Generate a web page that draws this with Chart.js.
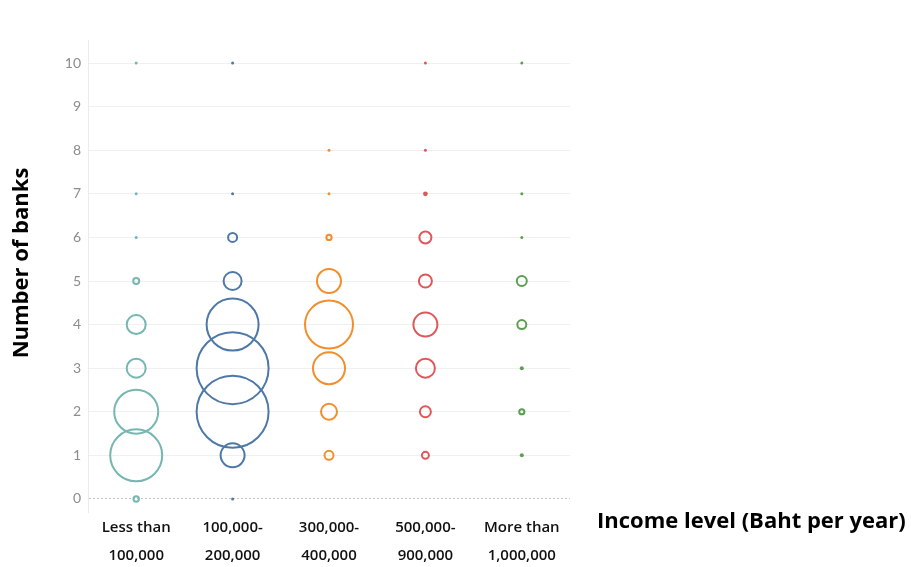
<!DOCTYPE html>
<html>
<head>
<meta charset="utf-8">
<script src="https://cdn.jsdelivr.net/npm/chart.js@4.4.1/dist/chart.umd.min.js"></script>
<style>
  html, body { margin: 0; padding: 0; background: #ffffff; }
  #wrap { width: 911px; height: 567px; position: relative; }
</style>
</head>
<body>
<div id="wrap"><canvas id="c" width="911" height="567"></canvas></div>
<script>
// ---- data ----
const categories = [
  ["Less than", "100,000"],
  ["100,000-", "200,000"],
  ["300,000-", "400,000"],
  ["500,000-", "900,000"],
  ["More than", "1,000,000"]
];
const yTickValues = [0, 1, 2, 3, 4, 5, 6, 7, 8, 9, 10];
const yTitle = "Number of banks";
const xTitle = "Income level (Baht per year)";

// number of banks (y) and bubble radius for each income group
const lessThan100kBanks = [10, 7, 6, 5, 4, 3, 2, 1, 0];
const lessThan100kSize  = [1.5, 1.5, 1.5, 3, 9.5, 9.5, 22, 26, 2.7];

const from100kBanks = [10, 7, 6, 5, 4, 3, 2, 1, 0];
const from100kSize  = [1.5, 1.5, 4.5, 9, 26, 36, 36, 12, 1.5];

const from300kBanks = [8, 7, 6, 5, 4, 3, 2, 1];
const from300kSize  = [1.5, 1.5, 2.6, 12, 24, 16, 8, 4.5];

const from500kBanks = [10, 8, 7, 6, 5, 4, 3, 2, 1];
const from500kSize  = [1.5, 1.5, 2.4, 6, 6.5, 12, 9.5, 5.5, 3.5];

const moreThan1mBanks = [10, 7, 6, 5, 4, 3, 2, 1];
const moreThan1mSize  = [1.5, 1.5, 1.5, 5, 4.5, 2, 2.6, 2];

const seriesColors = ["#76b7b2", "#4e79a7", "#f28e2b", "#e15759", "#59a14f"];

function buildPoints(catIndex, banks, sizes) {
  // x refers to the category label object itself so the category scale finds it
  return banks.map((b, i) => ({ x: categories[catIndex], y: b, r: sizes[i] }));
}

const groups = [
  [lessThan100kBanks, lessThan100kSize],
  [from100kBanks, from100kSize],
  [from300kBanks, from300kSize],
  [from500kBanks, from500kSize],
  [moreThan1mBanks, moreThan1mSize]
];

const datasets = groups.map((g, i) => {
  const col = seriesColors[i];
  return {
    label: categories[i].join(" "),
    data: buildPoints(i, g[0], g[1]),
    borderColor: col,
    backgroundColor: (ctx) => (ctx.raw && ctx.raw.r <= 2.5) ? col : "rgba(0,0,0,0)",
    borderWidth: (ctx) => (ctx.raw && ctx.raw.r <= 2.5) ? 0 : 2,
    hoverRadius: 0
  };
});

const titlesPlugin = {
  id: "titlesPlugin",
  afterDraw(chart) {
    const c = chart.ctx;
    c.save();
    c.font = "bold 22px 'Open Sans'";
    c.fillStyle = "#000000";
    c.textAlign = "left";
    c.textBaseline = "middle";
    c.fillText(xTitle, 597, 522);
    c.translate(22, 263);
    c.rotate(-Math.PI / 2);
    c.textAlign = "center";
    c.fillText(yTitle, 0, 0);
    c.restore();
  }
};

new Chart(document.getElementById("c"), {
  type: "bubble",
  data: { labels: categories, datasets: datasets },
  plugins: [titlesPlugin],
  options: {
    responsive: false,
    animation: false,
    events: [],
    layout: { padding: { left: 0, right: 341, top: 40, bottom: 0 } },
    plugins: { legend: { display: false }, tooltip: { enabled: false } },
    scales: {
      x: {
        type: "category",
        offset: true,
        grid: { display: false, drawTicks: false },
        border: { display: false },
        ticks: {
          padding: 2,
          color: "#111111",
          font: { family: "'Open Sans'", size: 15, weight: "600", lineHeight: "28px" },
          maxRotation: 0,
          autoSkip: false
        },
        afterFit(axis) { axis.height = 55; }
      },
      y: {
        type: "linear",
        min: -0.3,
        max: 10.53,
        afterBuildTicks(axis) { axis.ticks = yTickValues.map(v => ({ value: v })); },
        grid: {
          drawTicks: false,
          color: (ctx) => (ctx.tick && ctx.tick.value === 0) ? "#c4c4c4" : "#f0f0f0",
          lineWidth: 1
        },
        border: {
          display: true,
          color: "#ebebeb",
          width: 1,
          dash: (ctx) => (ctx.tick && ctx.tick.value === 0) ? [2, 2] : []
        },
        ticks: {
          padding: 7,
          color: "#8c8c8c",
          font: { family: "Lato", size: 14 }
        },
        afterFit(axis) { axis.width = 88; }
      }
    }
  }
});
</script>
</body>
</html>
